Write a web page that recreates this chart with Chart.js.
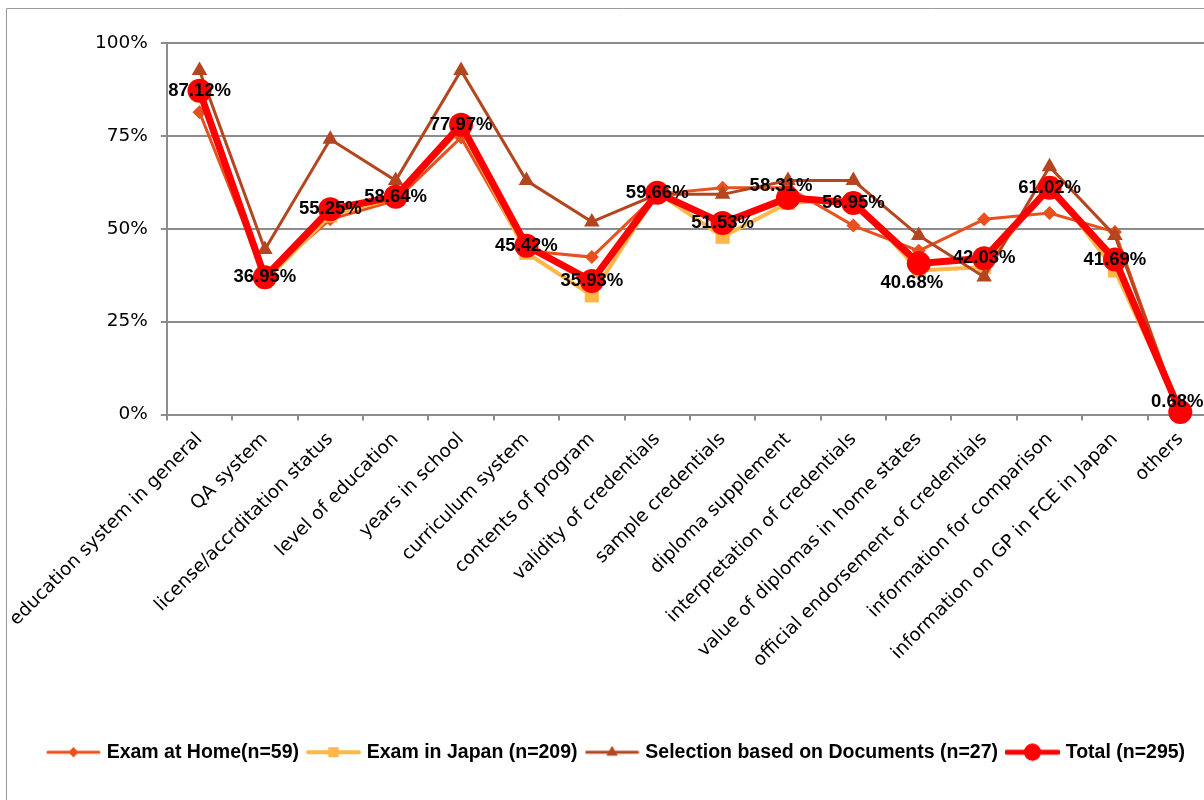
<!DOCTYPE html>
<html>
<head>
<meta charset="utf-8">
<script src="https://cdn.jsdelivr.net/npm/chart.js@4.4.1/dist/chart.umd.min.js"></script>
<style>
  html, body { margin: 0; padding: 0; background: #ffffff; overflow: hidden; }
  #wrap { position: absolute; left: 0; top: 0; width: 1240px; height: 800px; }
  canvas { display: block; }
</style>
</head>
<body>
<div id="wrap"><canvas id="c" width="1240" height="800"></canvas></div>
<script>
// ---- data ----
const categories = [
  "education system in general", "QA system", "license/accrditation status",
  "level of education", "years in school", "curriculum system",
  "contents of program", "validity of credentials", "sample credentials",
  "diploma supplement", "interpretation of credentials",
  "value of diplomas in home states", "official endorsement of credentials",
  "information for comparison", "information on GP in FCE in Japan", "others"
];
const seriesNames = [
  "Exam at Home(n=59)", "Exam in Japan (n=209)",
  "Selection based on Documents (n=27)", "Total (n=295)"
];
const examAtHome = [81.36, 37.29, 52.54, 57.63, 74.58, 44.07, 42.37, 59.32, 61.02, 61.02, 50.85, 44.07, 52.54, 54.24, 49.15, 0];
const examInJapan = [88.04, 35.89, 53.59, 58.37, 77.03, 43.54, 32.06, 59.81, 47.85, 56.94, 57.89, 38.76, 39.71, 62.20, 38.76, 0.96];
const documents = [92.59, 44.44, 74.07, 62.96, 92.59, 62.96, 51.85, 59.26, 59.26, 62.96, 62.96, 48.15, 37.04, 66.67, 48.15, 0];
const total = [87.12, 36.95, 55.25, 58.64, 77.97, 45.42, 35.93, 59.66, 51.53, 58.31, 56.95, 40.68, 42.03, 61.02, 41.69, 0.68];
const yTicks = [0, 25, 50, 75, 100];

// ---- styles ----
const FONT_AXIS = "'DejaVu Sans', sans-serif";
const FONT_BOLD = "'Liberation Sans', Arial, sans-serif";
const GRID = '#8c8c8c';
// label nudges for the Total data labels (dx, dy in px)
const labelNudge = {9: [-7, -12], 11: [-7, 20], 15: [-3, -10]};

const styles = [
  {color: '#E8501E', width: 3, point: 'rectRot', radius: 7, order: 4},
  {color: '#FFB847', width: 4, point: 'rect', radius: 10, order: 3},
  {color: '#B4461F', width: 3, point: 'triangle', radius: 9, order: 2},
  {color: '#FF0000', width: 7, point: 'circle', radius: 12, order: 1}
];
const values = [examAtHome, examInJapan, documents, total];

const datasets = values.map((v, i) => ({
  label: seriesNames[i],
  data: v,
  borderColor: styles[i].color,
  backgroundColor: styles[i].color,
  borderWidth: styles[i].width,
  pointStyle: styles[i].point,
  pointRadius: styles[i].radius,
  pointHoverRadius: styles[i].radius,
  pointBorderWidth: 0,
  pointBackgroundColor: styles[i].color,
  tension: 0,
  order: styles[i].order,
  clip: false
}));

function legendIcon(st) {
  const c = document.createElement('canvas');
  c.width = 55; c.height = 22;
  const ctx = c.getContext('2d');
  ctx.strokeStyle = st.color;
  ctx.lineWidth = Math.min(st.width, 5);
  ctx.lineCap = 'round';
  ctx.beginPath(); ctx.moveTo(2, 11); ctx.lineTo(53, 11); ctx.stroke();
  ctx.fillStyle = st.color;
  Chart.helpers.drawPoint(ctx, {pointStyle: st.point, radius: st.radius * 0.7, rotation: 0, borderWidth: 0}, 27.5, 11);
  ctx.fill();
  return c;
}

const frame = {
  id: 'frame',
  beforeDraw(chart) {
    const ctx = chart.ctx;
    ctx.save();
    ctx.fillStyle = '#fff';
    ctx.fillRect(0, 0, chart.width, chart.height);
    ctx.strokeStyle = '#9a9a9a';
    ctx.lineWidth = 1;
    ctx.beginPath();
    ctx.moveTo(6.5, chart.height);
    ctx.lineTo(6.5, 8.5);
    ctx.lineTo(chart.width, 8.5);
    ctx.stroke();
    ctx.restore();
  }
};

const dataLabels = {
  id: 'dataLabels',
  afterDatasetsDraw(chart) {
    const ctx = chart.ctx;
    const meta = chart.getDatasetMeta(3);
    ctx.save();
    ctx.font = "bold 18.5px " + FONT_BOLD;
    ctx.fillStyle = '#000';
    ctx.textAlign = 'center';
    ctx.textBaseline = 'middle';
    meta.data.forEach((pt, i) => {
      const n = labelNudge[i] || [0, 0];
      ctx.fillText(total[i].toFixed(2) + '%', pt.x + n[0], pt.y + n[1]);
    });
    ctx.restore();
  }
};

new Chart(document.getElementById('c'), {
  type: 'line',
  data: {labels: categories, datasets},
  options: {
    responsive: false,
    animation: false,
    devicePixelRatio: 1,
    layout: {padding: {left: 22, right: 27, top: 43, bottom: 28}},
    plugins: {
      tooltip: {enabled: false},
      legend: {
        position: 'bottom',
        labels: {
          usePointStyle: true,
          pointStyleWidth: 47,
          padding: 11,
          color: '#000',
          font: {family: FONT_BOLD, size: 19.5, weight: 'bold'},
          generateLabels(chart) {
            return chart.data.datasets.map((d, i) => ({
              text: d.label,
              pointStyle: legendIcon(styles[i]),
              fillStyle: d.borderColor,
              strokeStyle: d.borderColor,
              lineWidth: 0,
              hidden: false,
              datasetIndex: i,
              fontColor: '#000'
            }));
          }
        }
      }
    },
    scales: {
      x: {
        offset: true,
        grid: {display: true, drawOnChartArea: false, drawTicks: true, tickLength: 6, color: GRID, lineWidth: 2, offset: true},
        border: {display: true, color: GRID, width: 2},
        ticks: {
          autoSkip: false, maxRotation: 45, minRotation: 45, padding: 8,
          color: '#000', font: {family: FONT_AXIS, size: 18.5}
        },
        afterFit(scale) { scale.height = 317; }
      },
      y: {
        min: 0, max: 100,
        afterBuildTicks(scale) { scale.ticks = yTicks.map(v => ({value: v})); },
        grid: {color: GRID, lineWidth: 2, tickLength: 6},
        border: {display: true, color: GRID, width: 2},
        ticks: {
          padding: 13, color: '#000',
          font: {family: FONT_AXIS, size: 18.5},
          callback: v => v + '%'
        },
        afterFit(scale) { scale.width = 144; }
      }
    }
  },
  plugins: [frame, dataLabels]
});
</script>
</body>
</html>
